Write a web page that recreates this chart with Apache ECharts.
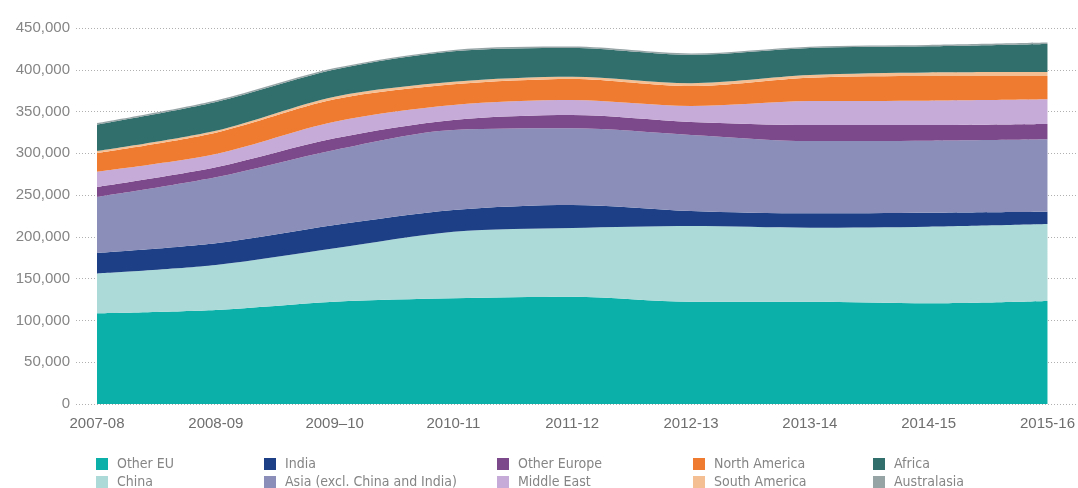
<!DOCTYPE html>
<html>
<head>
<meta charset="utf-8">
<script src="https://cdn.jsdelivr.net/npm/echarts@6/dist/echarts.min.js"></script>
<style>
  html, body { margin: 0; padding: 0; background: #ffffff; }
  #chart { width: 1078px; height: 488px; }
</style>
</head>
<body>
<div id="chart"></div>
<script>
// Academic years on the horizontal axis
const years = ['2007-08', '2008-09', '2009–10', '2010-11', '2011-12', '2012-13', '2013-14', '2014-15', '2015-16'];

// Student numbers by domicile, stacked bottom to top
const otherEU      = [108500, 112500, 122400, 126500, 128400, 122400, 122400, 120500, 123300];
const china        = [47700, 53800, 63900, 79700, 82200, 90600, 88600, 91700, 92100];
const india        = [24500, 26000, 27900, 26000, 27600, 18000, 17200, 16700, 14700];
const asiaOther    = [67000, 79000, 89800, 95700, 91700, 91000, 86500, 86200, 86700];
const otherEurope  = [12000, 12000, 14000, 12000, 15900, 15500, 19200, 18800, 18300];
const middleEast   = [18300, 15900, 19800, 17900, 18000, 19100, 28700, 29100, 29500];
const northAmerica = [22400, 25500, 26800, 24800, 25200, 23900, 27900, 29500, 28100];
const southAmerica = [2400, 2300, 3200, 3100, 2700, 3500, 3200, 4200, 4500];
const africa       = [31700, 34500, 32500, 36400, 34400, 34000, 32400, 31400, 33700];
const australasia  = [1500, 1600, 1700, 1700, 1700, 1600, 1600, 1600, 1600];

const layers = [
  { name: 'Other EU', data: otherEU, color: '#0bb1a9' },
  { name: 'China', data: china, color: '#acdad8' },
  { name: 'India', data: india, color: '#1c3f86' },
  { name: 'Asia (excl. China and India)', data: asiaOther, color: '#8a8eb9' },
  { name: 'Other Europe', data: otherEurope, color: '#7c4a8b' },
  { name: 'Middle East', data: middleEast, color: '#c6aad7' },
  { name: 'North America', data: northAmerica, color: '#ef7b30' },
  { name: 'South America', data: southAmerica, color: '#f5bf94' },
  { name: 'Africa', data: africa, color: '#316f6c' },
  { name: 'Australasia', data: australasia, color: '#96a4a6' }
];

const narrowFont = "'Liberation Sans Narrow', 'DejaVu Sans Condensed', 'Arial Narrow', sans-serif";
const axisFont = "Arial, 'Liberation Sans', sans-serif";

// Legend: five columns, two rows (column x positions, row y positions)
const legendColX = [96, 264, 497, 693, 873];
const legendRowY = [457, 475];

const chart = echarts.init(document.getElementById('chart'), null, { renderer: 'canvas' });

const legends = layers.map((l, i) => ({
  data: [l.name],
  left: legendColX[Math.floor(i / 2)],
  top: legendRowY[i % 2],
  padding: 0,
  itemWidth: 12,
  itemHeight: 12,
  itemGap: 0,
  icon: 'rect',
  selectedMode: false,
  textStyle: { color: '#858585', fontSize: 14, fontFamily: narrowFont, padding: [0, 0, 0, 4] }
}));

const option = {
  animation: false,
  backgroundColor: '#ffffff',
  grid: [
    // wide grid: tick labels and dotted guide lines
    { left: 76, right: 0, top: 28, bottom: 84 },
    // plot area for the stacked layers
    { left: 97, right: 30, top: 28, bottom: 84 }
  ],
  xAxis: [
    { gridIndex: 0, type: 'value', min: 0, max: 1, show: false },
    {
      gridIndex: 1, type: 'category', data: years, boundaryGap: false,
      axisLine: { show: false }, axisTick: { show: false },
      axisLabel: { color: '#6e6e6e', fontSize: 15, margin: 12, fontFamily: axisFont, interval: 0 }
    }
  ],
  yAxis: [
    {
      gridIndex: 0, type: 'value', min: 0, max: 450000, interval: 50000,
      axisLine: { show: false }, axisTick: { show: false },
      axisLabel: {
        color: '#858585', fontSize: 15, margin: 6, fontFamily: axisFont,
        formatter: v => v.toLocaleString('en-US')
      },
      splitLine: { show: true, lineStyle: { color: '#b0b0b0', width: 1, type: [1, 2] } }
    },
    { gridIndex: 1, type: 'value', min: 0, max: 450000, interval: 50000, show: false, splitLine: { show: false } }
  ],
  legend: legends,
  series: [
    { type: 'line', xAxisIndex: 0, yAxisIndex: 0, data: [], silent: true },
    ...layers.map(l => ({
      name: l.name,
      type: 'line',
      xAxisIndex: 1,
      yAxisIndex: 1,
      stack: 'students',
      data: l.data,
      smooth: 0.3,
      showSymbol: false,
      symbol: 'none',
      color: l.color,
      lineStyle: { width: 0, color: l.color },
      areaStyle: { color: l.color, opacity: 1 }
    }))
  ]
};

chart.setOption(option);
</script>
</body>
</html>
